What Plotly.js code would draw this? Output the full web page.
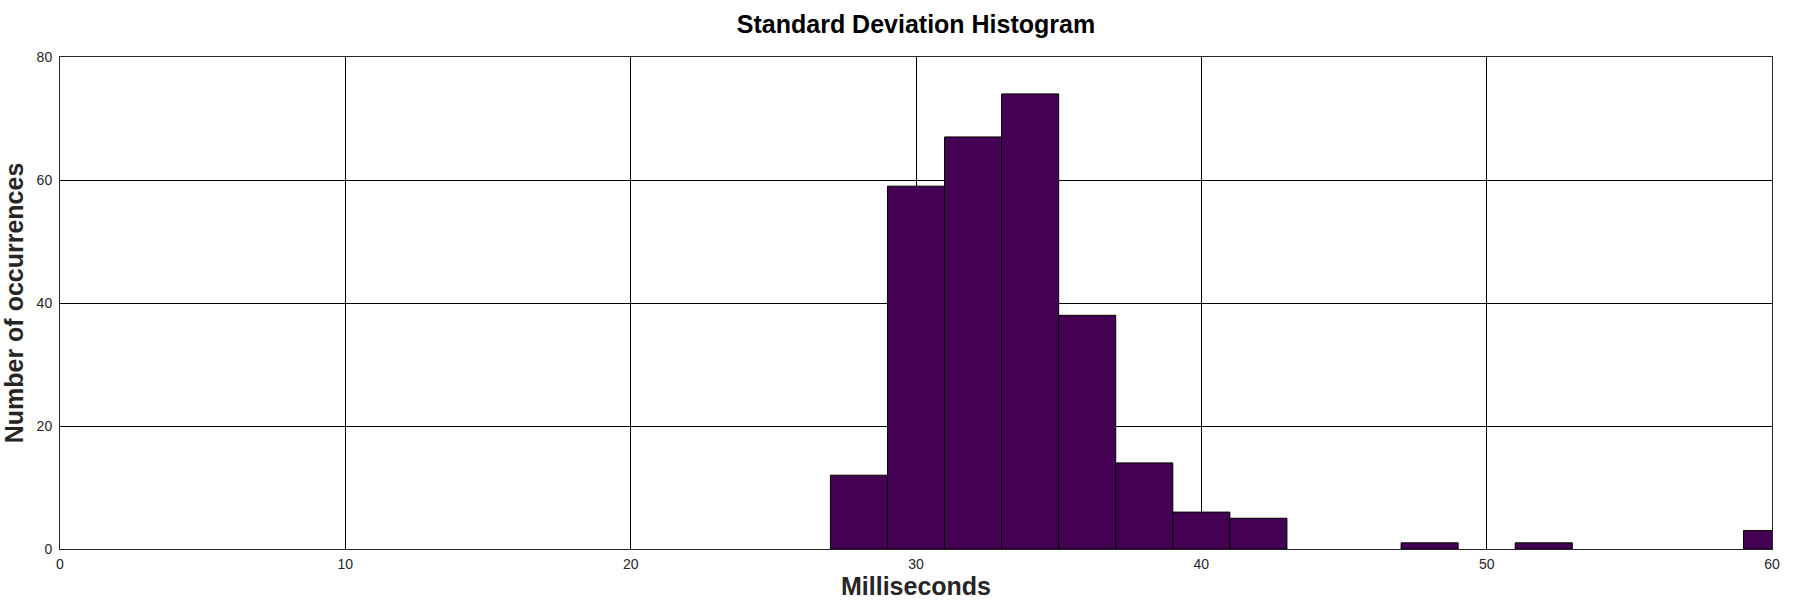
<!DOCTYPE html>
<html>
<head>
<meta charset="utf-8">
<script src="https://cdn.plot.ly/plotly-3.0.1.min.js"></script>
<style>
  html, body { margin: 0; padding: 0; background: #fff; }
  #chart { width: 1800px; height: 600px; }
</style>
</head>
<body>
<div id="chart"></div>
<script>
// bin centres (ms) and counts, bins are 2 ms wide
const binCenters = [28, 30, 32, 34, 36, 38, 40, 42, 48, 52, 60];
const counts     = [12, 59, 67, 74, 38, 14, 6, 5, 1, 1, 3];
const binWidth = 2;

const xTicks = [0, 10, 20, 30, 40, 50, 60];
const yTicks = [0, 20, 40, 60, 80];

window.addEventListener("DOMContentLoaded", () => {

  const font = "Liberation Sans, Arial, Helvetica, sans-serif";

  Plotly.newPlot("chart", [{
    type: "bar",
    x: binCenters,
    y: counts,
    width: binCenters.map(() => binWidth),
    marker: {
      color: "#440154",
      line: { color: "#000000", width: 1 }
    },
    hoverinfo: "x+y"
  }], {
    width: 1800,
    height: 600,
    margin: { l: 60, r: 28, t: 57, b: 51 },
    paper_bgcolor: "#ffffff",
    plot_bgcolor: "#ffffff",
    showlegend: false,
    bargap: 0,
    font: { family: font, color: "#262626" },
    title: {
      text: "<b>Standard Deviation Histogram</b>",
      font: { family: font, size: 25, color: "#000000" },
      xref: "paper", x: 0.5, xanchor: "center",
      y: 0.96, yanchor: "middle"
    },
    xaxis: {
      range: [0, 60],
      tickvals: xTicks,
      ticktext: xTicks.map(String),
      ticks: "",
      ticklabelstandoff: 2,
      tickfont: { size: 14, color: "#262626" },
      showgrid: true,
      gridcolor: "#000000",
      gridwidth: 1,
      zeroline: false,
      showline: true,
      linecolor: "#262626",
      linewidth: 1,
      mirror: true,
      title: {
        text: "<b>Milliseconds</b>",
        font: { family: font, size: 25, color: "#262626" },
        standoff: 11
      }
    },
    yaxis: {
      range: [0, 80],
      tickvals: yTicks,
      ticktext: yTicks.map(String),
      ticks: "",
      ticklabelstandoff: 4,
      tickfont: { size: 14, color: "#262626" },
      showgrid: true,
      gridcolor: "#000000",
      gridwidth: 1,
      zeroline: false,
      showline: true,
      linecolor: "#262626",
      linewidth: 1,
      mirror: true,
      title: {
        text: "<b>Number of occurrences</b>",
        font: { family: font, size: 25, color: "#262626" },
        standoff: 7
      }
    }
  }, { displayModeBar: false, staticPlot: true });

});
</script>
</body>
</html>
